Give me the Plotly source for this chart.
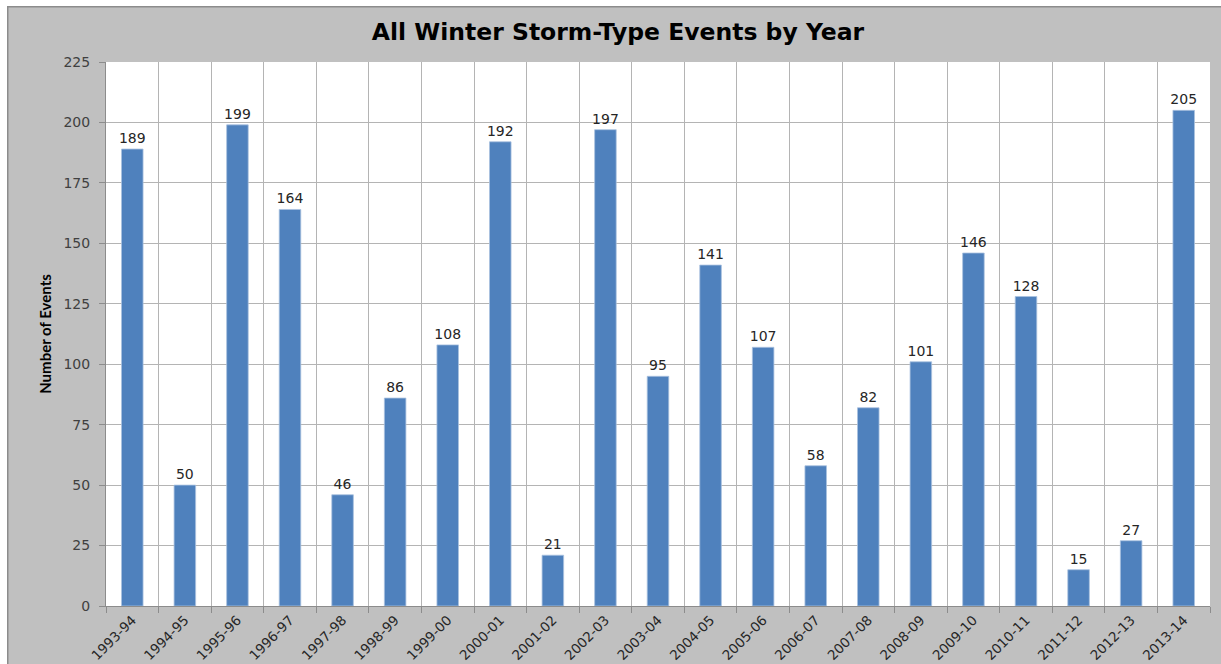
import plotly.graph_objects as go

seasons = ["1993-94", "1994-95", "1995-96", "1996-97", "1997-98", "1998-99", "1999-00",
           "2000-01", "2001-02", "2002-03", "2003-04", "2004-05", "2005-06", "2006-07",
           "2007-08", "2008-09", "2009-10", "2010-11", "2011-12", "2012-13", "2013-14"]
events = [189, 50, 199, 164, 46, 86, 108, 192, 21, 197, 95, 141, 107, 58, 82, 101,
          146, 128, 15, 27, 205]
y_ticks = [0, 25, 50, 75, 100, 125, 150, 175, 200, 225]

# page offset of the figure (body margin), figure size
OX, OY = 7, 6
W, H = 1221 - OX, 664 - OY
L, R, T, B = 106 - OX, 11, 62 - OY, 58
pw, ph = W - L - R, H - T - B

def px_x(p):
    return (p - L) / pw

def px_y(p):
    return (H - B - p) / ph

FONT = "DejaVu Sans, Verdana, sans-serif"

fig = go.Figure(go.Bar(
    x=seasons, y=events, width=0.41,
    marker=dict(color="#4f81bd", line=dict(color="#a9c1e0", width=0.8)),
    text=[str(v) for v in events], textposition="outside", cliponaxis=False,
    constraintext="none",
    textfont=dict(family=FONT, size=14, color="#262626"),
))

fig.update_layout(
    width=W, height=H,
    margin=dict(l=L, r=R, t=T, b=B),
    paper_bgcolor="#c0c0c0", plot_bgcolor="white",
    showlegend=False,
    title=dict(text="<b>All Winter Storm-Type Events by Year</b>",
               x=611 / W, xref="container", xanchor="center",
               y=1 - 26 / H, yref="container", yanchor="middle",
               font=dict(family=FONT, size=23.5, color="#000000")),
    shapes=[
        dict(type="line", xref="paper", yref="paper", layer="above",
             x0=px_x(0), x1=px_x(W + 5), y0=px_y(0.75), y1=px_y(0.75),
             line=dict(color="#8c8c8c", width=1.5)),
        dict(type="line", xref="paper", yref="paper", layer="above",
             x0=px_x(0.75), x1=px_x(0.75), y0=px_y(H + 5), y1=px_y(0),
             line=dict(color="#8c8c8c", width=1.5)),
    ],
    bargap=0.59,
)

fig.update_xaxes(
    type="category", tickson="boundaries", ticks="outside", ticklen=6,
    tickcolor="#8c8c8c", showgrid=True, gridcolor="#b4b4b4", gridwidth=1,
    showline=True, linecolor="#8c8c8c", linewidth=1, mirror=False,
    tickangle=-45, automargin=False,
    tickfont=dict(family=FONT, size=13.5, color="#262626"),
)
fig.update_yaxes(
    range=[0, 225], tickvals=y_ticks, ticks="outside", ticklen=6,
    tickcolor="#8c8c8c", showgrid=True, gridcolor="#b4b4b4", gridwidth=1,
    showline=True, linecolor="#8c8c8c", linewidth=1, zeroline=False,
    automargin=False, ticklabelstandoff=6,
    tickfont=dict(family=FONT, size=14, color="#404040"),
    title=dict(text="<b>Number of Events</b>", standoff=8,
               font=dict(family="Liberation Sans Narrow, Lato, sans-serif", size=15, color="#000000")),
)

fig.write_html(
    "out.html",
    post_script=f"document.body.style.margin='{OY}px 0 0 {OX}px';"
                "document.body.style.overflow='hidden';",
)
